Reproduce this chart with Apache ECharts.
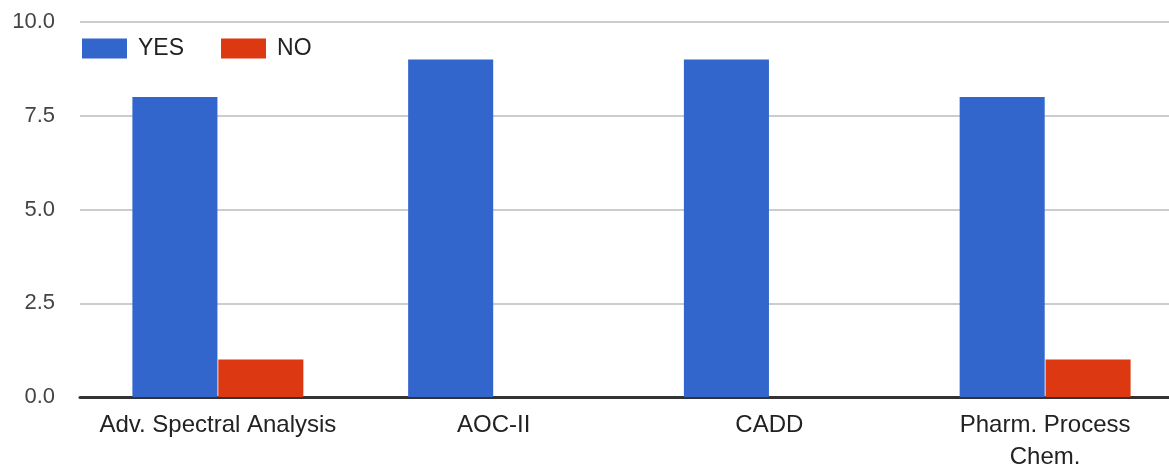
<!DOCTYPE html>
<html>
<head>
<meta charset="utf-8">
<script src="https://cdn.jsdelivr.net/npm/echarts@6/dist/echarts.min.js"></script>
<style>
  html, body { margin: 0; padding: 0; background: #fff; }
  #chart { width: 1169px; height: 466px; }
</style>
</head>
<body>
<div id="chart"></div>
<script>
const categories = ['Adv. Spectral Analysis', 'AOC-II', 'CADD', 'Pharm. Process\nChem.'];
const yesValues = [8, 9, 9, 8];
const noValues = [1, 0, 0, 1];

const font = '"Liberation Sans", Arial, sans-serif';

const chart = echarts.init(document.getElementById('chart'));

chart.setOption({
  animation: false,
  color: ['#3366cc', '#dc3912'],
  legend: {
    left: 77,
    top: 32,
    itemWidth: 45,
    itemHeight: 20,
    itemGap: 37,
    icon: 'rect',
    textStyle: { fontFamily: font, fontSize: 23, color: '#222', padding: [0, 0, 0, 6] },
    data: ['YES', 'NO']
  },
  grid: {
    left: 80,
    right: -14,
    top: 22,
    bottom: 69,
    containLabel: false,
    outerBoundsMode: 'none'
  },
  xAxis: {
    type: 'category',
    data: categories,
    axisTick: { show: false },
    axisLine: { show: true, lineStyle: { color: '#333', width: 3 } },
    axisLabel: {
      interval: 0,
      margin: 12,
      fontFamily: font,
      fontSize: 24,
      color: '#222',
      lineHeight: 32
    }
  },
  yAxis: {
    type: 'value',
    min: 0,
    max: 10,
    interval: 2.5,
    axisLine: { show: false },
    axisTick: { show: false },
    splitLine: { lineStyle: { color: '#cccccc', width: 2 } },
    axisLabel: {
      margin: 25,
      fontFamily: font,
      fontSize: 22,
      color: '#444',
      formatter: (v) => v.toFixed(1)
    }
  },
  series: [
    {
      name: 'YES',
      type: 'bar',
      barGap: '1%',
      barCategoryGap: '38%',
      data: yesValues
    },
    {
      name: 'NO',
      type: 'bar',
      data: noValues
    }
  ]
});
</script>
</body>
</html>
